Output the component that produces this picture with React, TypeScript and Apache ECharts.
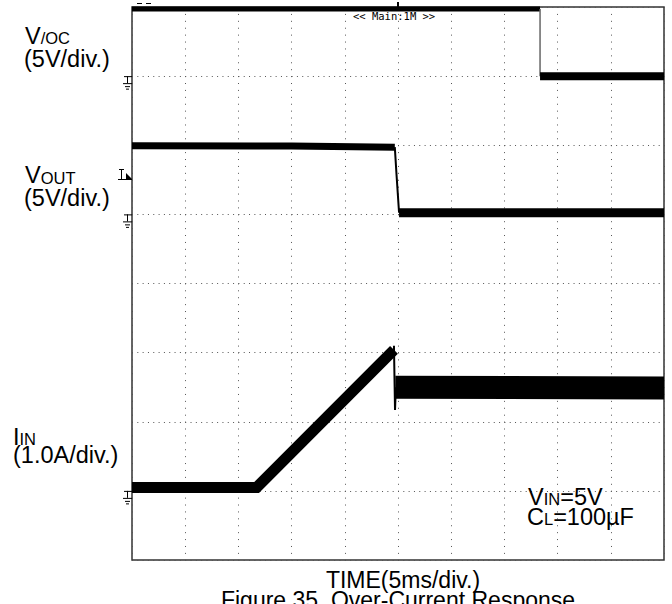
import React, { useEffect, useRef } from 'react';
import * as echarts from 'echarts';

// ---- axes: time in ms (5 ms/div), vertical in scope divisions ----
const X_MIN = 0;
const X_MAX = 50;
const X_STEP = 5;
const Y_MIN = 0;
const Y_MAX = 8;
const Y_STEP = 1;

// ---- channels: ground position (div from bottom) and scale (units/div) ----
const CH_VOC = { ground: 7, perDiv: 5 };
const CH_VOUT = { ground: 5, perDiv: 5 };
const CH_IIN = { ground: 1, perDiv: 1 };

// ---- V/OC trace [ms, V] ----
const VOC_HIGH: [number, number][] = [[0, 4.86], [38.35, 4.86]];
const VOC_EDGE: [number, number][] = [[38.35, 4.86], [38.35, 0.0]];
const VOC_LOW: [number, number][] = [[38.35, 0.0], [50, 0.0]];

// ---- VOUT trace [ms, V] ----
const VOUT_HIGH: [number, number][] = [[0, 4.97], [15, 4.95], [24.7, 4.86]];
const VOUT_EDGE: [number, number][] = [[24.7, 4.86], [24.85, 3.0], [25.1, 0.12]];
const VOUT_LOW: [number, number][] = [[25.1, 0.12], [50, 0.12]];

// ---- IIN trace [ms, A] ----
const IIN_RAMP: [number, number][] = [[0, 0.05], [11.72, 0.05], [24.62, 2.04]];
const IIN_DROP: [number, number][] = [[24.62, 2.1], [24.72, 1.17], [24.8, 1.5]];
const IIN_SETTLED: [number, number][] = [[24.75, 1.5], [50, 1.49]];

const FONT = '"Liberation Sans", Arial, Helvetica, sans-serif';
const BIG = 23.5;
const SMALL = 16.5;
const MID_C = 0.35; // baseline offset below the 'middle' anchor, in em

type Part = [string, boolean]; // [text, small caps]

let measureCtx: CanvasRenderingContext2D | null = null;
function measure(text: string, size: number) {
  if (!measureCtx) measureCtx = document.createElement('canvas').getContext('2d');
  measureCtx!.font = `${size}px ${FONT}`;
  return measureCtx!.measureText(text).width;
}

function label(parts: Part[], x: number, baseline: number, align: 'left' | 'center' = 'left', big = BIG) {
  const sizes = parts.map(([, s]) => (s ? SMALL : big));
  const widths = parts.map(([t], i) => measure(t, sizes[i]));
  const total = widths.reduce((a, b) => a + b, 0);
  let cx = align === 'center' ? x - total / 2 : x;
  const children = parts.map(([t], i) => {
    const el = {
      type: 'text',
      x: cx,
      y: baseline - MID_C * sizes[i],
      z: 10,
      style: {
        text: t,
        x: 0,
        y: 0,
        align: 'left',
        verticalAlign: 'middle',
        fill: '#000',
        font: `${sizes[i]}px ${FONT}`,
      },
    };
    cx += widths[i];
    return el;
  });
  return { type: 'group', children };
}

function ground(x: number, y: number) {
  const ln = (x1: number, y1: number, x2: number, y2: number) => ({
    type: 'line',
    shape: { x1, y1, x2, y2 },
    style: { stroke: '#000', lineWidth: 1 },
    z: 10,
  });
  return {
    type: 'group',
    children: [
      ln(x - 8, y + 0.5, x, y + 0.5),
      ln(x - 4.5, y, x - 4.5, y + 7),
      ln(x - 9, y + 7.5, x, y + 7.5),
      ln(x - 7, y + 10.5, x - 2, y + 10.5),
      ln(x - 6, y + 13, x - 3, y + 13),
    ],
  };
}

function toDiv(data: [number, number][], ch: { ground: number; perDiv: number }) {
  return data.map(([t, v]) => [t, ch.ground + v / ch.perDiv]);
}

function trace(data: number[][], width: number, color = '#000', z = 3) {
  return {
    type: 'line',
    data,
    symbol: 'none',
    showSymbol: false,
    silent: true,
    z,
    lineStyle: { color, width, cap: 'butt', join: 'miter' },
  };
}

export default function App() {
  const ref = useRef<HTMLDivElement>(null);
  useEffect(() => {
    document.body.style.margin = '0';
    const chart = echarts.init(ref.current!, null, { renderer: 'svg' });
    const gridDash = '#555';
    chart.setOption({
      animation: false,
      backgroundColor: '#fff',
      grid: {
        left: 132,
        top: 7,
        right: 8,
        bottom: 44,
        show: true,
        borderColor: '#333',
        borderWidth: 1.5,
        backgroundColor: 'transparent',
      },
      xAxis: {
        type: 'value',
        min: X_MIN,
        max: X_MAX,
        interval: X_STEP,
        axisLine: { show: false },
        axisTick: { show: false },
        axisLabel: { show: false },
        splitLine: { show: true, lineStyle: { color: gridDash, width: 1, type: [1, 5.91] } },
      },
      yAxis: {
        type: 'value',
        min: Y_MIN,
        max: Y_MAX,
        interval: Y_STEP,
        axisLine: { show: false },
        axisTick: { show: false },
        axisLabel: { show: false },
        splitLine: { show: true, lineStyle: { color: gridDash, width: 1, type: [1, 4.32] } },
      },
      series: [
        trace(toDiv(VOC_HIGH, CH_VOC), 5),
        trace(toDiv(VOC_EDGE, CH_VOC), 1.5, '#666'),
        trace(toDiv(VOC_LOW, CH_VOC), 8),
        trace(toDiv(VOUT_HIGH, CH_VOUT), 7),
        trace(toDiv(VOUT_EDGE, CH_VOUT), 2),
        trace(toDiv(VOUT_LOW, CH_VOUT), 9),
        trace(toDiv(IIN_RAMP, CH_IIN), 11),
        trace(toDiv(IIN_DROP, CH_IIN), 2),
        trace(toDiv(IIN_SETTLED, CH_IIN), 23),
      ],
    });

    const px = (t: number, d: number) => chart.convertToPixel({ gridIndex: 0 }, [t, d]) as number[];
    const gVoc = px(0, CH_VOC.ground);
    const gVout = px(0, CH_VOUT.ground);
    const gIin = px(0, CH_IIN.ground);
    const left = gVoc[0];
    const trig = px(25, Y_MAX);

    chart.setOption({
      graphic: [
        label([['V', false], ['/OC', true]], 25, 44),
        label([['(5V/div.)', false]], 24, 67),
        label([['V', false], ['OUT', true]], 25, 183.5),
        label([['(5V/div.)', false]], 24, 206.5),
        label([['I', false], ['IN', true]], 13, 445),
        label([['(1.0A/div.)', false]], 13, 463),
        label([['V', false], ['IN', true], ['=5V', false]], 528, 505),
        label([['C', false], ['L', true], ['=100µF', false]], 527, 525),
        label([['TIME(5ms/div.)', false]], 403, 588, 'center', 23),
        label([['Figure 35. Over-Current Response', false]], 398, 608, 'center', 23),
        ground(left, gVoc[1]),
        ground(left, gVout[1]),
        ground(left, gIin[1]),
        // trigger level marker
        {
          type: 'group',
          children: [
            { type: 'line', shape: { x1: left - 13, y1: 169.5, x2: left - 8, y2: 169.5 }, style: { stroke: '#000', lineWidth: 1 }, z: 10 },
            { type: 'line', shape: { x1: left - 10.5, y1: 169, x2: left - 10.5, y2: 179 }, style: { stroke: '#000', lineWidth: 1 }, z: 10 },
            { type: 'line', shape: { x1: left - 14, y1: 179.5, x2: left, y2: 179.5 }, style: { stroke: '#000', lineWidth: 1 }, z: 10 },
            { type: 'polygon', shape: { points: [[left - 6, 173], [left, 179], [left - 6, 179]] }, style: { fill: '#000' }, z: 10 },
          ],
        },
        // trigger position marker at top
        { type: 'rect', shape: { x: trig[0] - 1, y: trig[1] - 5, width: 2, height: 6 }, style: { fill: '#000' }, z: 10 },
        { type: 'line', shape: { x1: 137, y1: 3.5, x2: 142, y2: 3.5 }, style: { stroke: '#000', lineWidth: 1 }, z: 10 },
        { type: 'line', shape: { x1: 146, y1: 3.5, x2: 151, y2: 3.5 }, style: { stroke: '#000', lineWidth: 1 }, z: 10 },
        {
          type: 'text',
          x: 353,
          y: 10,
          z: 2,
          style: { text: '<< Main:1M >>', font: '10.5px "DejaVu Sans Mono", monospace', fill: '#000', verticalAlign: 'top' },
        },
      ],
    });
    return () => chart.dispose();
  }, []);
  return <div ref={ref} style={{ width: 672, height: 604 }} />;
}
